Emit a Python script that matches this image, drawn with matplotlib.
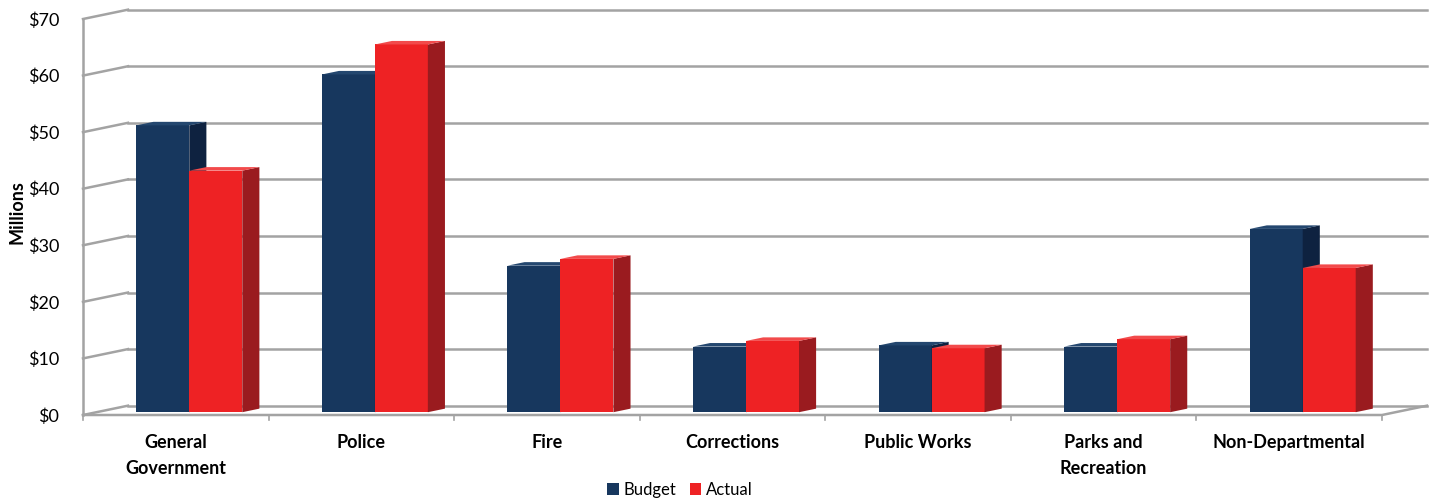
import matplotlib

matplotlib.use("Agg")
import matplotlib.pyplot as plt
from matplotlib.patches import Polygon, Patch

categories = ["General\nGovernment", "Police", "Fire", "Corrections",
              "Public Works", "Parks and\nRecreation", "Non-Departmental"]
budget = [50.7, 59.7, 25.9, 11.6, 11.8, 11.6, 32.4]
actual = [42.7, 65.0, 27.1, 12.6, 11.3, 12.9, 25.5]
yticks = [0, 10, 20, 30, 40, 50, 60, 70]

NAVY = ("#17375e", "#0e2240", "#24476f")   # front, side, top
RED = ("#ee2224", "#9a1b1f", "#f24a4b")
GRID = "#a3a3a3"

# pseudo-3D depth of the plot box, in data units (category, $M)
DX, DY = 0.2425, 1.65
BAR_W = 0.2856
D0, D1 = 0.30, 0.68  # front / back depth fraction of the bars

fig = plt.figure(figsize=(14.35, 5.01), dpi=100)
ax = fig.add_axes([83 / 1435, 86 / 501, 1299 / 1435, 396 / 501])
ax.set_xlim(0, len(categories))
ax.set_ylim(0, 70)
for s in ax.spines.values():
    s.set_visible(False)

# walls and gridlines
for v in yticks:
    ax.plot([0, DX], [v, v + DY], color=GRID, lw=1.8, clip_on=False, zorder=1)
    ax.plot([DX, len(categories) + DX], [v + DY, v + DY], color=GRID, lw=1.8,
            clip_on=False, zorder=1)
ax.plot([0, 0], [0, 70], color=GRID, lw=1.8, clip_on=False, zorder=1)
n = len(categories)
ax.plot([0, n, n + DX], [0, 0, DY], color=GRID, lw=1.8, clip_on=False, zorder=1)
for i in range(n + 1):
    ax.plot([i, i], [0, -0.9], color=GRID, lw=1.2, clip_on=False, zorder=1)


def bar3d(x0, h, cols):
    front, side, top = cols
    ox0, oy0 = D0 * DX, D0 * DY
    ox1, oy1 = D1 * DX, D1 * DY
    x1 = x0 + BAR_W
    ax.add_patch(Polygon([(x0 + ox0, oy0), (x1 + ox0, oy0), (x1 + ox0, h + oy0),
                          (x0 + ox0, h + oy0)], closed=True, fc=front, ec="none",
                         zorder=3, clip_on=False))
    ax.add_patch(Polygon([(x1 + ox0, oy0), (x1 + ox1, oy1), (x1 + ox1, h + oy1),
                          (x1 + ox0, h + oy0)], closed=True, fc=side, ec="none",
                         zorder=3, clip_on=False))
    ax.add_patch(Polygon([(x0 + ox0, h + oy0), (x1 + ox0, h + oy0), (x1 + ox1, h + oy1),
                          (x0 + ox1, h + oy1)], closed=True, fc=top, ec="none",
                         zorder=3, clip_on=False))


for i, (b, a) in enumerate(zip(budget, actual)):
    c = i + 0.5
    bar3d(c - BAR_W, b, NAVY)
    bar3d(c, a, RED)

ax.set_yticks(yticks)
ax.set_yticklabels([f"${v}" for v in yticks], fontsize=13, family="Lato")
ax.tick_params(axis="y", length=0, pad=17)
ax.set_xticks([i + 0.5 for i in range(n)])
ax.set_xticklabels(categories, fontsize=13, fontweight="bold", family="Lato",
                   linespacing=1.6)
ax.tick_params(axis="x", length=0, pad=14)
fig.text(17 / 1435, 1 - 212 / 501, "Millions", rotation=90, ha="center", va="center",
         fontsize=13, fontweight="bold", family="Lato")

handles = [Patch(fc=NAVY[0], label="Budget"), Patch(fc=RED[0], label="Actual")]
fig.legend(handles=handles, loc="center", bbox_to_anchor=(680 / 1435, 1 - 490 / 501),
           ncol=2, frameon=False, handlelength=0.7, handleheight=0.7,
           handletextpad=0.3, columnspacing=0.8, prop={"family": "Lato", "size": 12})

fig.savefig("out.png", dpi=100)
